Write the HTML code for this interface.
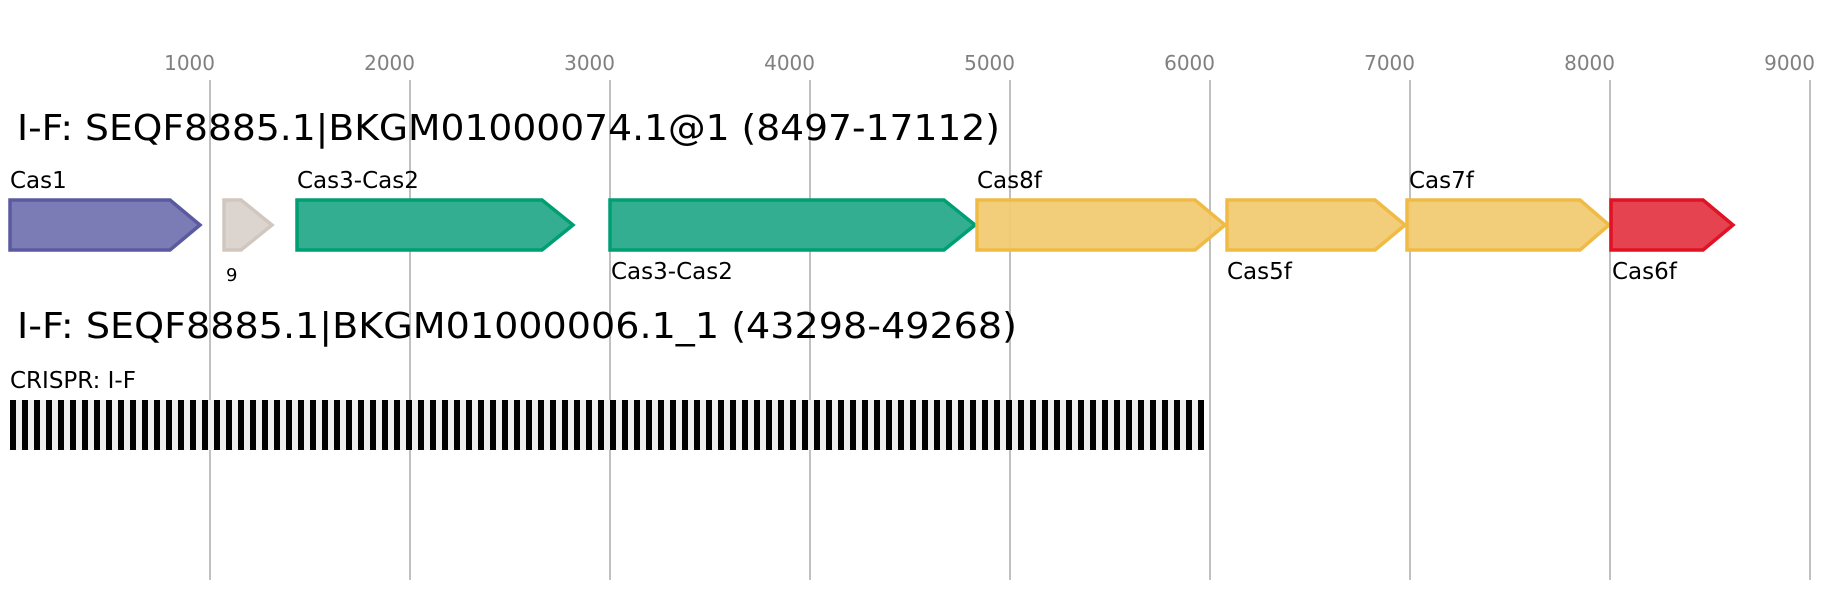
<!DOCTYPE html>
<html><head><meta charset="utf-8"><style>html,body{margin:0;padding:0;background:#fff}svg{display:block}text{font-family:"DejaVu Sans","Liberation Sans",sans-serif}</style></head>
<body>
<svg width="1823" height="600" viewBox="0 0 1823 600" xmlns="http://www.w3.org/2000/svg">
<defs>
<pattern id="cr" x="10" y="0" width="12" height="600" patternUnits="userSpaceOnUse">
<rect x="0" y="0" width="12" height="600" fill="#eeeeee"/>
<rect x="0" y="0" width="6" height="600" fill="#000"/>
</pattern>
</defs>
<g stroke="#c0c0c0" stroke-width="2">
<line x1="210" y1="80" x2="210" y2="580"/><line x1="410" y1="80" x2="410" y2="580"/>
<line x1="610" y1="80" x2="610" y2="580"/><line x1="810" y1="80" x2="810" y2="580"/>
<line x1="1010" y1="80" x2="1010" y2="580"/><line x1="1210" y1="80" x2="1210" y2="580"/>
<line x1="1410" y1="80" x2="1410" y2="580"/><line x1="1610" y1="80" x2="1610" y2="580"/>
<line x1="1810" y1="80" x2="1810" y2="580"/>
</g>
<g fill="#808080" font-size="20" text-anchor="end">
<text x="215" y="70">1000</text><text x="415" y="70">2000</text><text x="615" y="70">3000</text>
<text x="815" y="70">4000</text><text x="1015" y="70">5000</text><text x="1215" y="70">6000</text>
<text x="1415" y="70">7000</text><text x="1615" y="70">8000</text><text x="1815" y="70">9000</text>
</g>
<text x="17" y="140" font-size="36" textLength="983" lengthAdjust="spacingAndGlyphs">I-F: SEQF8885.1|BKGM01000074.1@1 (8497-17112)</text>
<g stroke-width="3.5">
<polygon points="10,200 170,200 200,225 170,250 10,250" fill="#7b7bb5" stroke="#5a5aa0"/>
<polygon points="224,200 241,200 272,225 241,250 224,250" fill="#dcd4ce" stroke="#d2c7be"/>
<polygon points="297,200 542,200 573,225 542,250 297,250" fill="#33ae90" stroke="#009e73"/>
<polygon points="610,200 944,200 975,225 944,250 610,250" fill="#33ae90" stroke="#009e73"/>
<polygon points="977,200 1195,200 1225,225 1195,250 977,250" fill="#f1cb73" fill-opacity="0.95" stroke="#efbb45"/>
<polygon points="1227,200 1375,200 1405,225 1375,250 1227,250" fill="#f1cb73" fill-opacity="0.95" stroke="#efbb45"/>
<polygon points="1407,200 1580,200 1609,225 1580,250 1407,250" fill="#f1cb73" fill-opacity="0.95" stroke="#efbb45"/>
<polygon points="1611,200 1703,200 1733,225 1703,250 1611,250" fill="#e5434f" stroke="#df1325"/>
</g>
<g font-size="23" fill="#000">
<text x="10" y="188">Cas1</text>
<text x="297" y="188">Cas3-Cas2</text>
<text x="977" y="188">Cas8f</text>
<text x="1409" y="188">Cas7f</text>
<text x="611" y="279">Cas3-Cas2</text>
<text x="1227" y="279">Cas5f</text>
<text x="1612" y="279">Cas6f</text>
<text x="226" y="281" font-size="18">9</text>
</g>
<text x="17" y="338" font-size="36" textLength="1000" lengthAdjust="spacingAndGlyphs">I-F: SEQF8885.1|BKGM01000006.1_1 (43298-49268)</text>
<text x="10" y="388" font-size="23">CRISPR: I-F</text>
<rect x="10" y="400" width="1194" height="50" fill="url(#cr)"/>
</svg>
</body></html>
